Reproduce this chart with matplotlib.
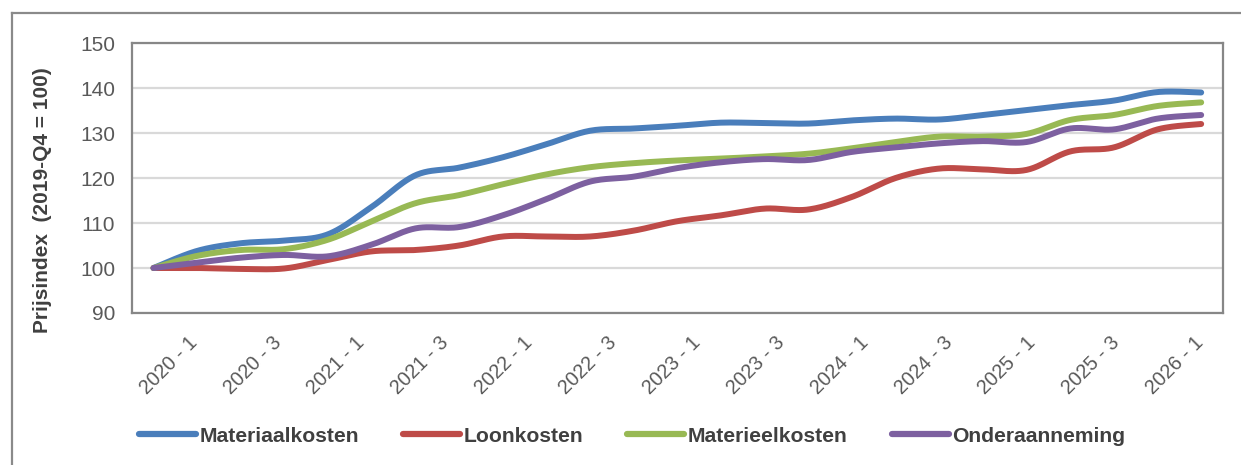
import numpy as np
import matplotlib
matplotlib.use("Agg")
import matplotlib.pyplot as plt
from matplotlib.lines import Line2D
from matplotlib.transforms import ScaledTranslation

# ---------------- data ----------------
quarters = [f"{y} - {q}" for y in range(2020, 2026) for q in range(1, 5)] + ["2026 - 1"]

materiaalkosten = [100, 103.8, 105.5, 106.1, 107.5, 113.6, 120.6, 122.3, 124.6, 127.5,
                   130.5, 131.0, 131.6, 132.3, 132.2, 132.1, 132.8, 133.2, 133.0, 134.0,
                   135.1, 136.2, 137.2, 139.1, 139.0]
loonkosten = [100, 100.0, 99.8, 99.9, 101.8, 103.7, 104.0, 105.0, 107.0, 107.0,
              107.0, 108.3, 110.4, 111.7, 113.2, 113.0, 115.8, 120.0, 122.1, 121.9,
              121.8, 125.9, 126.8, 130.8, 132.0]
materieelkosten = [100, 102.7, 104.0, 104.2, 106.3, 110.4, 114.4, 116.2, 118.6, 120.8,
                   122.4, 123.3, 123.9, 124.3, 124.8, 125.4, 126.6, 128.0, 129.2, 129.2,
                   129.8, 132.9, 134.0, 136.0, 136.8]
onderaanneming = [100, 101.2, 102.3, 102.9, 102.6, 105.2, 108.8, 109.1, 111.7, 115.3,
                  119.2, 120.3, 122.2, 123.5, 124.2, 124.0, 125.8, 126.8, 127.7, 128.2,
                  128.0, 131.0, 130.8, 133.2, 134.0]

series_names = ["Materiaalkosten", "Loonkosten", "Materieelkosten", "Onderaanneming"]
series_values = [materiaalkosten, loonkosten, materieelkosten, onderaanneming]
colors = ["#4A7EBB", "#BE4B48", "#98B954", "#7D60A0"]

y_ticks = [90, 100, 110, 120, 130, 140, 150]
y_label = "Prijsindex  (2019-Q4 = 100)"


def smooth_curve(xs, ys, n=24):
    """Excel-style smoothed line (Catmull-Rom Bezier) through the given points."""
    xs = np.asarray(xs, float)
    ys = np.asarray(ys, float)
    P = np.column_stack([xs, ys])
    Pext = np.vstack([P[0], P, P[-1]])
    out = []
    t = np.linspace(0, 1, n, endpoint=False)[:, None]
    for i in range(len(P) - 1):
        p0, p1, p2, p3 = Pext[i], Pext[i + 1], Pext[i + 2], Pext[i + 3]
        c1 = p1 + (p2 - p0) / 6.0
        c2 = p2 - (p3 - p1) / 6.0
        seg = ((1 - t) ** 3) * p1 + 3 * ((1 - t) ** 2) * t * c1 + 3 * (1 - t) * t ** 2 * c2 + t ** 3 * p2
        out.append(seg)
    out.append(P[-1][None, :])
    out = np.vstack(out)
    return out[:, 0], out[:, 1]


W, H = 1241, 465
fig = plt.figure(figsize=(W / 100, H / 100), dpi=100)
plt.rcParams["font.family"] = ["Liberation Sans", "DejaVu Sans"]

left, right, top, bottom = 131.7, 1223, 43, 313
ax = fig.add_axes([left / W, 1 - bottom / H, (right - left) / W, (bottom - top) / H])

x = np.arange(len(quarters))
for i, (name, vals, col) in enumerate(zip(series_names, series_values, colors)):
    sx, sy = smooth_curve(x, vals)
    ax.plot(sx, sy, color=col, lw=4.3, solid_capstyle="round", solid_joinstyle="round",
            label=name, zorder=3 + i)

ax.set_xlim(-0.5, len(quarters) - 0.5)
ax.set_ylim(90, 150)
ax.set_yticks(y_ticks)
ax.set_yticklabels([str(v) for v in y_ticks])
ax.yaxis.grid(True, color="#D9D9D9", lw=1.6)
ax.set_axisbelow(True)

ax.set_xticks(x[::2])
ax.set_xticklabels(quarters[::2], rotation=45, ha="center", va="center",
                   rotation_mode="anchor")
ax.tick_params(axis="both", length=0, colors="#595959")
ax.tick_params(axis="y", pad=12, labelsize=15)
ax.tick_params(axis="x", pad=0, labelsize=14.2)
# Excel spaces the rotated labels slightly tighter than the category slots
for k, lab in enumerate(ax.get_xticklabels()):
    dx_px = 15 - 3.43 * k
    lab.set_transform(lab.get_transform() +
                      ScaledTranslation(dx_px / 100, -52 / 100, fig.dpi_scale_trans))

for s in ax.spines.values():
    s.set_color("#878787")
    s.set_linewidth(1.6)

fig.text(43 / W, 1 - 200 / H, y_label, rotation=90, ha="center", va="center",
         fontsize=15, fontweight="bold", color="#404040")

# outer chart-area frame (extends past the right and bottom edges)
fig.add_artist(Line2D([11.5 / W, 11.5 / W], [-0.05, 1 - 13 / H], color="#8A8A8A", lw=1.6))
fig.add_artist(Line2D([11.5 / W, 1.05], [1 - 13 / H, 1 - 13 / H], color="#8A8A8A", lw=1.6))

handles = [Line2D([0], [0], color=c, lw=4.5, solid_capstyle="round") for c in colors]
leg = fig.legend(handles, series_names, loc="center", bbox_to_anchor=(632 / W, 1 - 436 / H),
                 ncol=4, frameon=False, handlelength=2.7, handletextpad=0.15,
                 columnspacing=2.1, prop={"weight": "bold", "size": 15.2})
for t in leg.get_texts():
    t.set_color("#404040")

fig.savefig("out.png", dpi=100)
